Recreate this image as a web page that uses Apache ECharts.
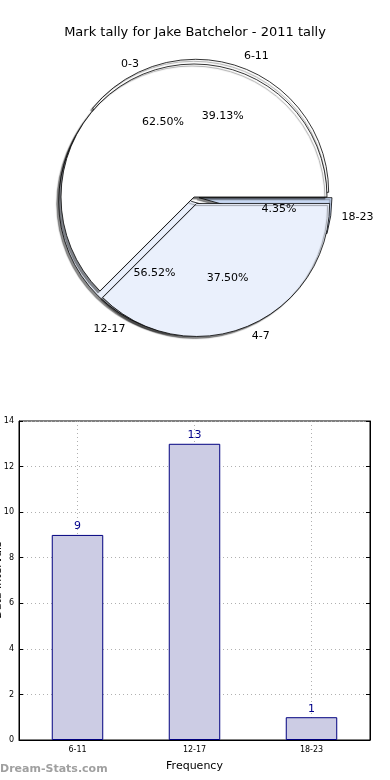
<!DOCTYPE html>
<html>
<head>
<meta charset="utf-8">
<script src="https://cdn.jsdelivr.net/npm/echarts@6/dist/echarts.min.js"></script>
<style>
html,body{margin:0;padding:0;background:#fff;}
#chart{width:390px;height:780px;}
</style>
</head>
<body>
<div id="chart"></div>
<script>
var titleText = 'Mark tally for Jake Batchelor - 2011 tally';
var pieACategories = ['0-3', '4-7'];
var pieAValues = [5, 3];
var pieAExploded = [false, true];
var pieBCategories = ['6-11', '12-17', '18-23'];
var pieBValues = [9, 13, 1];
var pieBExploded = [true, true, true];
var barCategories = ['6-11', '12-17', '18-23'];
var barValues = [9, 13, 1];
var yTicks = {min: 0, max: 14, interval: 2};
var xAxisTitle = 'Frequency';
var yAxisTitle = 'Data Intervals';

var FONT = 'DejaVu Sans';
var CX = 194, CY = 197, R = 133;
var LIGHT = '#eaf0fc';

function pieData(cats, vals, expl, colors) {
  return cats.map(function (c, i) {
    return {name: c, value: vals[i], selected: expl[i], itemStyle: {color: colors[i]}};
  });
}
function pctFmt(p) { return p.percent.toFixed(2) + '%'; }

var baseItem = {borderColor: '#000', borderWidth: 0.8,
  shadowColor: 'rgba(0,0,0,0.45)', shadowBlur: 1, shadowOffsetX: -2, shadowOffsetY: 2};

function visiblePie(cats, vals, expl, colors, offset) {
  return {
    type: 'pie', center: [CX, CY], radius: R, startAngle: 0, clockwise: false,
    selectedMode: 'multiple', selectedOffset: offset, avoidLabelOverlap: false,
    emphasis: {disabled: true}, silent: true, animation: false,
    itemStyle: baseItem,
    label: {show: true, position: 'outside', color: '#000', fontFamily: FONT, fontSize: 11,
      distanceToLabelLine: 0},
    labelLine: {show: false, length: 11, length2: 0},
    data: pieData(cats, vals, expl, colors)
  };
}
function pctPie(cats, vals, expl, offset) {
  return {
    type: 'pie', center: [CX, CY], radius: R * 1.2 - 4, startAngle: 0, clockwise: false,
    selectedMode: 'multiple', selectedOffset: offset, z: 10,
    emphasis: {disabled: true}, silent: true, animation: false,
    itemStyle: {color: 'rgba(0,0,0,0)', borderWidth: 0},
    label: {show: true, position: 'inside', formatter: pctFmt, color: '#000', fontFamily: FONT, fontSize: 11},
    labelLine: {show: false},
    data: cats.map(function (c, i) { return {name: c, value: vals[i], selected: expl[i]}; })
  };
}

var chart = echarts.init(document.getElementById('chart'), null, {renderer: 'canvas'});
var option = {
  backgroundColor: '#fff',
  animation: false,
  title: {text: titleText, left: 'center', top: 21,
    textStyle: {fontFamily: FONT, fontSize: 13, fontWeight: 'normal', color: '#000'}},
  grid: {left: 19, right: 20, top: 421, bottom: 40, show: true, borderColor: '#000', borderWidth: 1,
    outerBoundsMode: 'none', containLabel: false},
  xAxis: {
    type: 'category', data: barCategories, boundaryGap: true,
    name: xAxisTitle, nameLocation: 'middle', nameGap: 21,
    nameTextStyle: {fontFamily: FONT, fontSize: 11, color: '#000'},
    axisLine: {lineStyle: {color: '#000'}},
    axisTick: {show: true, alignWithLabel: true, inside: true, length: 4, lineStyle: {color: '#000'}},
    axisLabel: {fontFamily: FONT, fontSize: 8, color: '#000', margin: 6},
    splitLine: {show: true, alignWithLabel: true, lineStyle: {color: '#b0b0b0', type: [1, 3]}}
  },
  yAxis: [{
    type: 'value', min: yTicks.min, max: yTicks.max, interval: yTicks.interval,
    axisLine: {show: true, lineStyle: {color: '#000'}},
    axisTick: {show: true, inside: true, length: 4, lineStyle: {color: '#000'}},
    axisLabel: {fontFamily: FONT, fontSize: 8, color: '#000', margin: 5},
    splitLine: {show: true, lineStyle: {color: '#b0b0b0', type: [1, 3]}}
  }, {
    type: 'value', min: yTicks.min, max: yTicks.max, interval: yTicks.interval, position: 'right',
    axisLine: {show: true, lineStyle: {color: '#000'}},
    axisTick: {show: true, inside: true, length: 4, lineStyle: {color: '#000'}},
    axisLabel: {show: false}, splitLine: {show: false}
  }],
  graphic: [{
    type: 'text', left: 0, top: 764,
    style: {text: 'Dream-Stats.com', font: 'bold 11px "DejaVu Sans"', fill: '#a0a0a0'}
  }, {
    type: 'text', x: -2, y: 580, rotation: Math.PI / 2,
    style: {text: yAxisTitle, font: '11px "DejaVu Sans"', fill: '#000', align: 'center', verticalAlign: 'middle'}
  }],
  series: [
    visiblePie(pieBCategories, pieBValues, pieBExploded, ['#ffffff', LIGHT, '#c9d9f4'], 5),
    visiblePie(pieACategories, pieAValues, pieAExploded, ['#ffffff', LIGHT], 7),
    pctPie(pieBCategories, pieBValues, pieBExploded, 5),
    pctPie(pieACategories, pieAValues, pieAExploded, 7),
    {
      type: 'bar', data: barValues, barWidth: '44%', xAxisIndex: 0, yAxisIndex: 0,
      itemStyle: {color: '#ccccE4', borderColor: '#000080', borderWidth: 1},
      label: {show: true, position: 'top', distance: 3, color: '#00008b', fontFamily: FONT, fontSize: 11},
      emphasis: {disabled: true}, silent: true
    }
  ]
};
chart.setOption(option);
</script>
</body>
</html>
